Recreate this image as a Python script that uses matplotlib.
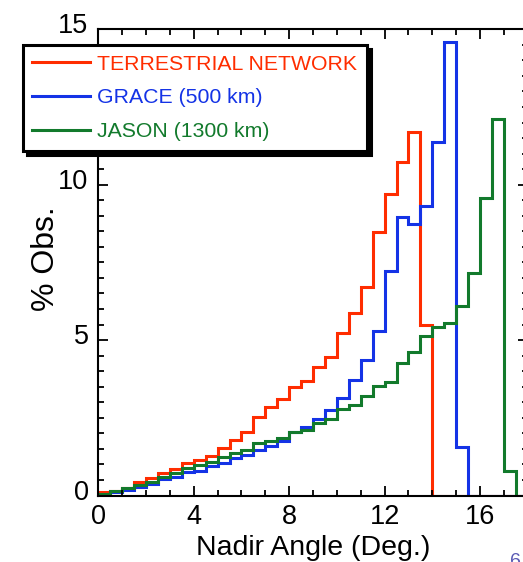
import matplotlib
matplotlib.use("Agg")
import matplotlib.pyplot as plt
import matplotlib.transforms as mtransforms
import numpy as np

plt.rcParams["font.family"] = ["Liberation Sans", "DejaVu Sans"]

# bin edges of the nadir-angle histogram (deg.)
bin_edges = np.arange(0, 18.01, 0.5)

terrestrial = [0.10, 0.14, 0.25, 0.42, 0.55, 0.71, 0.85, 1.06, 1.14, 1.27,
               1.52, 1.79, 2.05, 2.54, 2.86, 3.09, 3.48, 3.69, 4.14, 4.47,
               5.22, 5.86, 6.72, 8.47, 9.69, 10.72, 11.71, 5.49]
grace = [0.05, 0.10, 0.18, 0.28, 0.36, 0.52, 0.61, 0.77, 0.80, 0.95,
         1.04, 1.20, 1.30, 1.46, 1.59, 1.76, 2.03, 2.19, 2.45, 2.75,
         3.13, 3.72, 4.36, 5.29, 7.22, 8.95, 8.73, 9.32, 11.38, 14.58, 1.57]
jason = [0.05, 0.14, 0.25, 0.34, 0.44, 0.58, 0.71, 0.90, 0.98, 1.09,
         1.23, 1.36, 1.46, 1.68, 1.75, 1.85, 2.03, 2.11, 2.32, 2.46,
         2.77, 2.91, 3.20, 3.53, 3.66, 4.25, 4.61, 5.13, 5.43, 5.54,
         6.11, 7.15, 9.56, 12.11, 0.80]

labels = ["TERRESTRIAL NETWORK", "GRACE (500 km)", "JASON (1300 km)"]
colors = ["#ff2d00", "#1433e6", "#127a2c"]


def padded(vals):
    out = np.zeros(len(bin_edges) - 1)
    out[:len(vals)] = vals
    return out


fig = plt.figure(figsize=(5.23, 5.62), dpi=100)
ax = fig.add_axes([98.3 / 523, 66.5 / 562, 429.5 / 523, 466.2 / 562])

handles = []
for vals, lab, col in zip((terrestrial, grace, jason), labels, colors):
    ax.stairs(padded(vals), bin_edges, color=col, linewidth=2.2)
    handles.append(plt.Line2D([], [], color=col, linewidth=2.2, label=lab))

ax.set_xlim(0, 18)
ax.set_ylim(0, 15)
ax.set_xticks([0, 4, 8, 12, 16])
ax.set_xticks(np.arange(0, 18.1, 1), minor=True)
ax.set_yticks([0, 5, 10, 15])
ax.set_yticks(np.arange(0, 15.1, 0.5), minor=True)
ax.tick_params(which="both", direction="in", top=True, right=True,
               width=1.3, labelsize=19.5)
ax.tick_params(which="major", length=7.5)
ax.tick_params(which="minor", length=4)
ax.tick_params(axis="x", pad=6)
ax.tick_params(axis="y", pad=7)
for sp in ax.spines.values():
    sp.set_linewidth(1.5)

# the y tick labels sit a little above their ticks in the original
shift = mtransforms.ScaledTranslation(0, 6 / 100, fig.dpi_scale_trans)
for lbl in ax.get_yticklabels():
    lbl.set_transform(lbl.get_transform() + shift)

ax.set_xlabel("Nadir Angle (Deg.)", fontsize=20.5, labelpad=4)
ax.set_ylabel("% Obs.", fontsize=23)
ax.yaxis.set_label_coords(-0.088, 0.509)

leg = ax.legend(handles=handles, loc="upper left",
                bbox_to_anchor=(22.7 / 523, 1 - 45 / 562),
                bbox_transform=fig.transFigure, borderaxespad=0,
                fontsize=15.3, labelcolor="linecolor", fancybox=False,
                handlelength=2.7, handletextpad=0.35, labelspacing=0.7,
                borderpad=0.45,
                shadow={"color": "black", "alpha": 1, "ox": 3, "oy": -3})
leg.get_frame().set_edgecolor("black")
leg.get_frame().set_linewidth(2.2)
leg.get_frame().set_alpha(1)

fig.text(510 / 523, -8 / 562, "6", color="#5a5ab4", fontsize=14,
         ha="left", va="bottom")

fig.savefig("out.png", dpi=100)
